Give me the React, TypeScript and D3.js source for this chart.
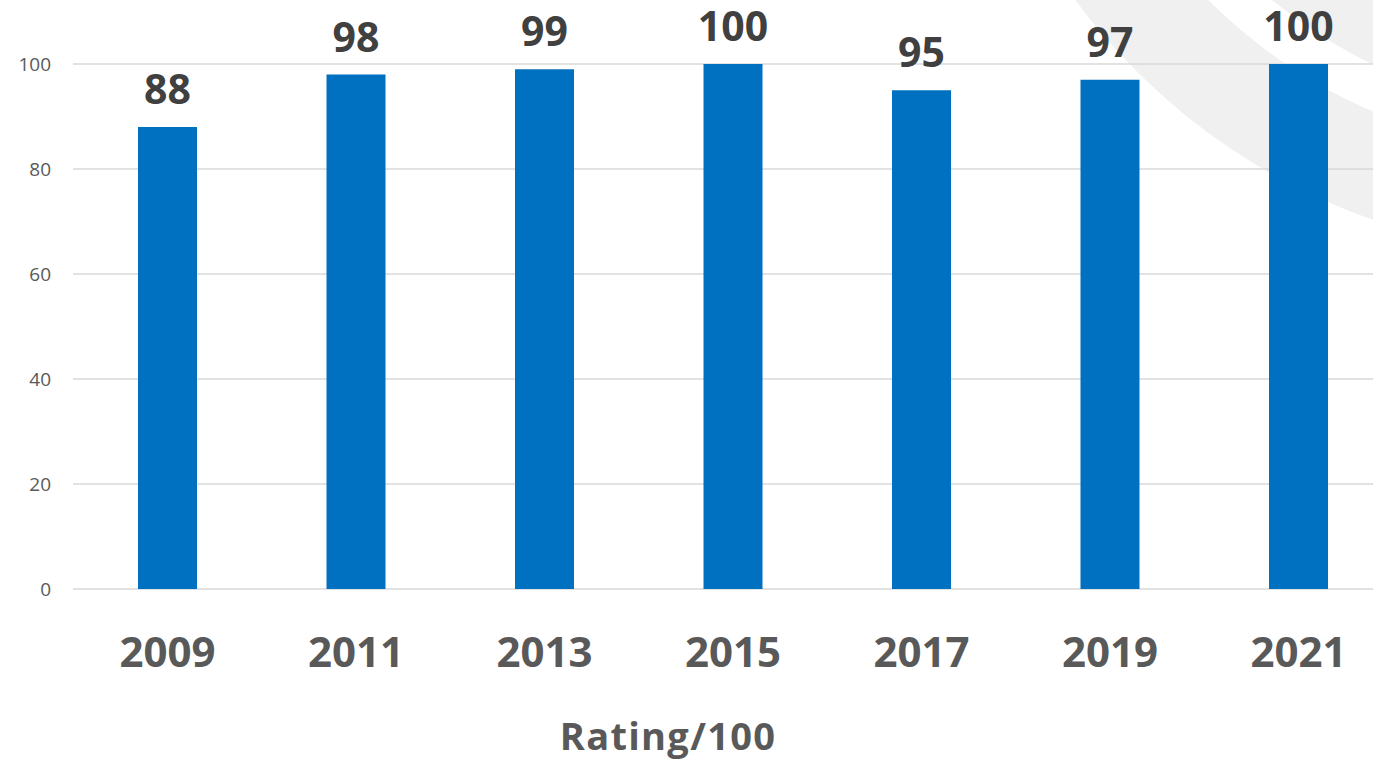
import React from "react";
import * as d3 from "d3";

const categories = ["2009", "2011", "2013", "2015", "2017", "2019", "2021"];
const ratings = [88, 98, 99, 100, 95, 97, 100];
const yTicks = [0, 20, 40, 60, 80, 100];
const axisTitle = "Rating/100";

const W = 1373;
const H = 768;
const FONT = "'Open Sans', Lato, sans-serif";

export default function App() {
  const x = d3
    .scaleBand<string>()
    .domain(categories)
    .range([73.25, 1392.75])
    .paddingInner(0.687)
    .paddingOuter(0.3435);
  const y = d3.scaleLinear().domain([0, 100]).range([589, 64]);

  const cx = 1580;
  const cy = -372;
  const ring = d3.arc()({
    innerRadius: 526,
    outerRadius: 627,
    startAngle: 0,
    endAngle: 2 * Math.PI,
  }) as string;
  const disk = d3.arc()({
    innerRadius: 0,
    outerRadius: 483,
    startAngle: 0,
    endAngle: 2 * Math.PI,
  }) as string;

  return (
    <div style={{ position: "fixed", left: 0, top: 0, width: W, height: H, background: "#fff" }}>
      <svg width={W} height={H} style={{ display: "block" }}>
        <g transform={`translate(${cx},${cy})`} fill="#f0f0f0">
          <path d={ring} />
          <path d={disk} />
        </g>
        {yTicks.map((t) => (
          <g key={t}>
            <line x1={73} x2={W} y1={y(t)} y2={y(t)} stroke="#d9d9d9" strokeWidth={1.5} />
            <text
              x={51}
              y={y(t)}
              dy="0.35em"
              textAnchor="end"
              fontFamily={FONT}
              fontSize={19}
              fill="#595959"
            >
              {t}
            </text>
          </g>
        ))}
        {categories.map((c, i) => {
          const bx = x(c) as number;
          const bw = x.bandwidth();
          return (
            <g key={c}>
              <rect x={bx} y={y(ratings[i])} width={bw} height={y(0) - y(ratings[i])} fill="#0070C0" />
              <text
                x={bx + bw / 2}
                y={y(ratings[i]) - 23}
                textAnchor="middle"
                fontFamily={FONT}
                fontWeight="bold"
                fontSize={41}
                fill="#404040"
              >
                {ratings[i]}
              </text>
              <text
                x={bx + bw / 2}
                y={667}
                textAnchor="middle"
                fontFamily={FONT}
                fontWeight="bold"
                fontSize={42}
                fill="#595959"
              >
                {c}
              </text>
            </g>
          );
        })}
        <text
          x={668}
          y={750}
          textAnchor="middle"
          fontFamily={FONT}
          fontWeight="bold"
          fontSize={38}
          letterSpacing={1.3}
          fill="#595959"
        >
          {axisTitle}
        </text>
      </svg>
    </div>
  );
}
